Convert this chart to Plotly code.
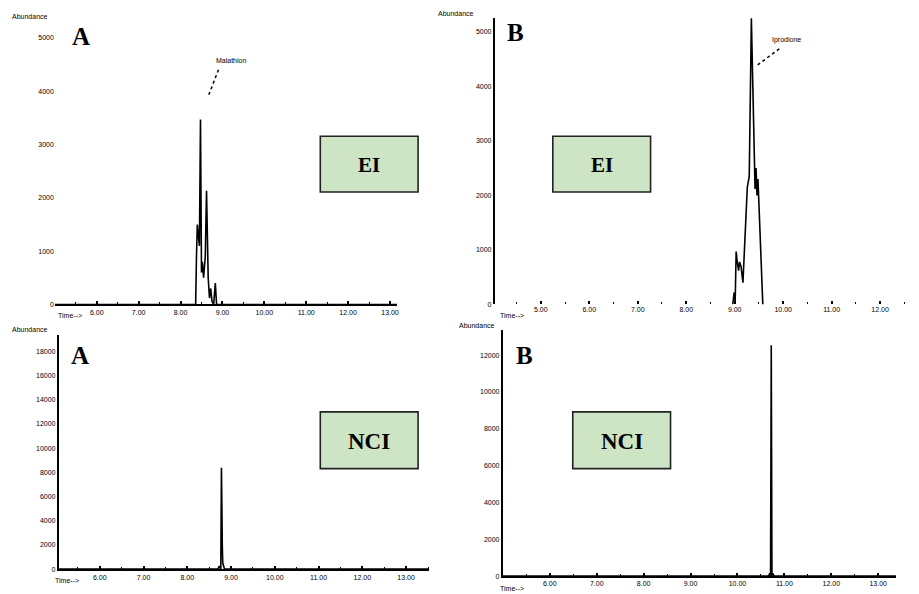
import plotly.graph_objects as go

W, H = 919, 594

# ---- data: total ion chromatograms (time in min, abundance) ----
# A, EI
ei_a_time = [5.00, 8.36, 8.38, 8.40, 8.43, 8.45, 8.476, 8.50, 8.52, 8.55, 8.59, 8.62, 8.64, 8.66, 8.69, 8.72, 8.75, 8.79, 8.83, 8.86, 13.17]
ei_a_abund = [0, 0, 900, 1500, 1250, 1100, 3470, 600, 800, 500, 900, 2130, 1300, 500, 120, 300, 60, 0, 400, 0, 0]
ei_a_xticks = [6, 7, 8, 9, 10, 11, 12, 13]
ei_a_yticks = [0, 1000, 2000, 3000, 4000, 5000]

# B, EI
ei_b_time = [8.96, 8.99, 9.01, 9.03, 9.05, 9.08, 9.10, 9.13, 9.17, 9.22, 9.26, 9.30, 9.32, 9.344, 9.36, 9.38, 9.40, 9.42, 9.44, 9.46, 9.48, 9.50, 9.53, 9.58]
ei_b_abund = [0, 220, 50, 970, 800, 620, 780, 700, 400, 1400, 2150, 2350, 3800, 5250, 4580, 3630, 3210, 2120, 2500, 2000, 2300, 1810, 900, 0]
ei_b_xticks = [5, 6, 7, 8, 9, 10, 11, 12]
ei_b_yticks = [0, 1000, 2000, 3000, 4000, 5000]

# A, NCI
nci_a_time = [5.07, 8.70, 8.73, 8.75, 8.765, 8.78, 8.79, 8.80, 8.81, 8.83, 8.85, 13.52]
nci_a_abund = [0, 0, 250, 0, 0, 8380, 2050, 1800, 500, 250, 0, 0]
nci_a_xticks = [6, 7, 8, 9, 10, 11, 12, 13]
nci_a_yticks = [0, 2000, 4000, 6000, 8000, 10000, 12000, 14000, 16000, 18000]

# B, NCI
nci_b_time = [5.00, 10.66, 10.69, 10.705, 10.72, 10.735, 10.75, 10.78, 13.38]
nci_b_abund = [0, 0, 150, 0, 12540, 0, 150, 0, 0]
nci_b_xticks = [6, 7, 8, 9, 10, 11, 12, 13]
nci_b_yticks = [0, 2000, 4000, 6000, 8000, 10000, 12000]

labels_panel = ["A", "B", "A", "B"]
labels_mode = ["EI", "EI", "NCI", "NCI"]
peak_names = ["Malathion", "Iprodione"]


def px(x):
    return x / W


def py(y):
    return 1 - y / H


fig = go.Figure()

panels = [
    # (time, abundance, xticks, yticks, x-domain px, y-domain px, xrange, yrange, show x line, show y line)
    (ei_a_time, ei_a_abund, ei_a_xticks, ei_a_yticks, (55, 398), (306, 20), (5.0, 13.17), (0, 5336), True, False),
    (ei_b_time, ei_b_abund, ei_b_xticks, ei_b_yticks, (496, 917), (306, 18), (4.053, 12.72), (0, 5255), False, True),
    (nci_a_time, nci_a_abund, nci_a_xticks, nci_a_yticks, (59, 430), (572, 337), (5.065, 13.524), (0, 19315), True, True),
    (nci_b_time, nci_b_abund, nci_b_xticks, nci_b_yticks, (504, 898), (579, 332), (5.0, 13.38), (0, 13351), True, True),
]

tick_font = dict(family="Liberation Sans, Arial, sans-serif", size=7, color="black")

for i, (t, a, xt, yt, xd, yd, xr, yr, xline, yline) in enumerate(panels, start=1):
    sx = "" if i == 1 else str(i)
    fig.add_trace(go.Scatter(
        x=t, y=a, mode="lines",
        line=dict(color="black", width=1.6),
        xaxis="x" + sx, yaxis="y" + sx, showlegend=False, hoverinfo="skip",
    ))
    fig.layout["xaxis" + sx] = dict(
        domain=[px(xd[0]), px(xd[1])], range=list(xr), anchor="y" + sx,
        tickvals=xt, ticktext=[f"{v:.2f}" for v in xt],
        showline=xline, linecolor="black", linewidth=2,
        ticks="inside", ticklen=3, tickwidth=1.5, tickcolor="black",
        minor=dict(ticks="inside", ticklen=2, tickwidth=1, dtick=0.5, tickcolor="black"),
        showgrid=False, zeroline=False, tickfont=tick_font,
    )
    fig.layout["yaxis" + sx] = dict(
        domain=[py(yd[0]), py(yd[1])], range=list(yr), anchor="x" + sx,
        tickvals=yt, ticktext=[str(v) for v in yt],
        showline=yline, linecolor="black", linewidth=2,
        ticks="", showgrid=False, zeroline=False, tickfont=tick_font,
    )

annotations = []
shapes = []

# axis captions
for (x, y) in [(10, 17), (437, 14), (10, 331), (458, 327)]:
    annotations.append(dict(x=px(x), y=py(y), xref="paper", yref="paper", text="Abundance",
                            showarrow=False, xanchor="left", yanchor="middle", font=tick_font))
for (x, y) in [(56, 317), (499, 317), (53, 583), (499, 591)]:
    annotations.append(dict(x=px(x), y=py(y), xref="paper", yref="paper", text="Time-->",
                            showarrow=False, xanchor="left", yanchor="middle", font=tick_font))

# panel letters
for txt, (x, y) in zip(labels_panel, [(81, 37), (517, 33), (80, 357), (526, 357)]):
    annotations.append(dict(x=px(x), y=py(y), xref="paper", yref="paper", text=f"<b>{txt}</b>",
                            showarrow=False, xanchor="center", yanchor="middle",
                            font=dict(family="Liberation Serif, Times New Roman, serif", size=25, color="black")))

# ionisation mode boxes
boxes = [(321, 137, 419, 193), (554, 137, 652, 193), (321, 414, 419, 471), (574, 414, 672, 471)]
for txt, (x0, y0, x1, y1) in zip(labels_mode, boxes):
    shapes.append(dict(type="rect", xref="paper", yref="paper",
                       x0=px(x0), y0=py(y0), x1=px(x1), y1=py(y1),
                       fillcolor="#cde5c4", line=dict(color="#222222", width=1.6), layer="above"))
    annotations.append(dict(x=px((x0 + x1) / 2), y=py((y0 + y1) / 2 + 1), xref="paper", yref="paper",
                            text=f"<b>{txt}</b>", showarrow=False, xanchor="center", yanchor="middle",
                            font=dict(family="Liberation Serif, Times New Roman, serif",
                                      size=21 if txt == "EI" else 23, color="black")))

# peak labels with dotted leader lines
for name, (lx, ly), (x0, y0, x1, y1) in zip(
        peak_names,
        [(232, 61), (788, 40)],
        [(219, 70, 209, 96), (781, 49, 757, 67)]):
    annotations.append(dict(x=px(lx), y=py(ly), xref="paper", yref="paper", text=name,
                            showarrow=False, xanchor="center", yanchor="middle",
                            font=dict(family="Liberation Sans, Arial, sans-serif", size=7, color="black")))
    shapes.append(dict(type="line", xref="paper", yref="paper",
                       x0=px(x0), y0=py(y0), x1=px(x1), y1=py(y1),
                       line=dict(color="black", width=1.5, dash="dot")))

fig.update_layout(
    width=W, height=H, margin=dict(l=0, r=0, t=0, b=0),
    paper_bgcolor="white", plot_bgcolor="white",
    annotations=annotations, shapes=shapes, showlegend=False,
)

fig.write_html("out.html")
